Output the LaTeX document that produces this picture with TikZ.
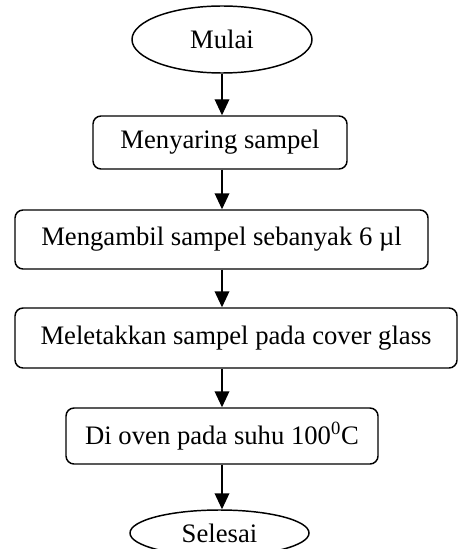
\documentclass[tikz,border=0pt]{standalone}
\usepackage{fontspec}
\setmainfont{Liberation Serif}
\usetikzlibrary{shapes.geometric,arrows.meta}

\tikzset{every picture/.style={line width=1.1pt}}
\tikzset{
  terminal/.style={draw, ellipse, inner sep=0pt, minimum width=#1, minimum height=50.25pt},
  prosesbox/.style={draw, rectangle, rounded corners=6pt, inner sep=0pt, minimum width=#1},
  panah/.style={-{Triangle[width=11pt,length=12pt]}},
}

\begin{document}
\begin{tikzpicture}[x=0.75pt,y=0.75pt,yscale=-1,xscale=1,font=\fontsize{20}{24}\selectfont]
        %set diagram left start at 0, and has height of 549
        \path[use as bounding box, clip] (0,0) rectangle (458,549);

        %Shape: Ellipse [id:mulai]
        \node[terminal=135pt] (mulai) at (222,39.5) {Mulai};
        %Shape: Rounded Rect [id:menyaring]
        \node[prosesbox=190.5pt, minimum height=39.75pt] (menyaring) at (220,142.5) {Menyaring sampel};
        %Shape: Rounded Rect [id:mengambil]
        \node[prosesbox=309.75pt, minimum height=44.25pt] (mengambil) at (221.5,239.5) {Mengambil sampel sebanyak 6 µl};
        %Shape: Rounded Rect [id:meletakkan]
        \node[prosesbox=331.5pt, minimum height=45pt] (meletakkan) at (236,338) {Meletakkan sampel pada cover glass};
        %Shape: Rounded Rect [id:oven]
        \node[prosesbox=234pt, minimum height=42pt] (oven) at (222,436) {Di oven pada suhu 100\textsuperscript{0}C};
        %Shape: Ellipse [id:selesai]
        \node[terminal=134.25pt, minimum height=34.5pt] (selesai) at (219.5,533) {Selesai};

        %Straight Lines
        \draw[panah] (mulai.south) -- (mulai |- menyaring.north);
        \draw[panah] (menyaring.south -| mulai) -- (mulai |- mengambil.north);
        \draw[panah] (mengambil.south -| mulai) -- (mulai |- meletakkan.north);
        \draw[panah] (meletakkan.south -| mulai) -- (mulai |- oven.north);
        \draw[panah] (oven.south -| mulai) -- (mulai |- selesai.north);

\end{tikzpicture}
\end{document}
